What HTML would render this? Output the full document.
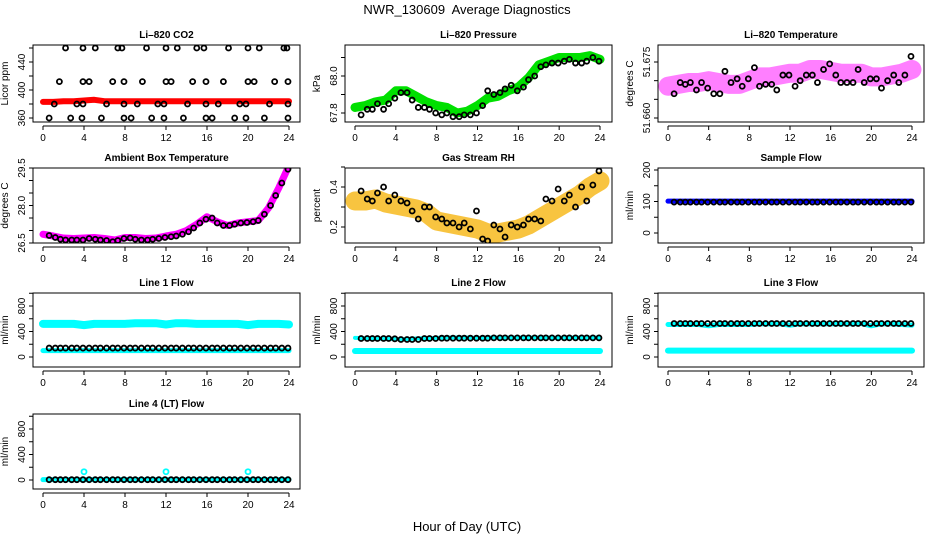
<!DOCTYPE html>
<html><head><meta charset="utf-8"><style>
html,body{margin:0;padding:0;background:#fff;}
svg{display:block;font-family:"Liberation Sans",Arial,sans-serif;}
</style></head><body>
<svg id="chart" width="936" height="540" viewBox="0 0 936 540" xmlns="http://www.w3.org/2000/svg">
<text x="467" y="14" font-size="13" text-anchor="middle">NWR_130609&#160; Average Diagnostics</text>
<text x="467" y="531" font-size="13" text-anchor="middle">Hour of Day (UTC)</text>
</svg>
<script>
// ---- shared data ----
const hours = [0,1,2,3,4,5,6,7,8,9,10,11,12,13,14,15,16,17,18,19,20,21,22,23,24];
const sampleTimes = [0.6,1.2,1.7,2.2,2.8,3.3,3.9,4.5,5.1,5.6,6.2,6.8,7.3,7.9,8.5,9.0,9.6,10.2,10.7,11.3,11.9,12.5,13.0,13.6,14.2,14.7,15.3,15.9,16.5,17.0,17.6,18.2,18.7,19.3,19.9,20.5,21.0,21.6,22.2,22.7,23.3,23.9];
const xTicks = [0,4,8,12,16,20,24];

// CO2
const co2Band = [383,383,384,384,385,386,384,384,384,384,384,384,384,384,384,384,384,384,384,384,384,384,384,384,384];
const co2T460 = [2.2,3.9,5.1,7.3,7.7,10.1,12.0,13.1,15.0,15.7,18.1,20.0,21.1,23.5,23.8];
const co2T412 = [1.6,3.9,4.5,6.8,7.9,9.7,12.0,12.5,14.6,15.9,17.6,20.0,20.6,22.6,23.9];
const co2T380 = [1.1,3.3,3.9,6.2,7.9,9.2,11.2,11.8,14.1,15.9,17.1,19.2,19.8,22.1,23.9];
const co2T360 = [0.6,2.7,3.8,5.7,7.9,8.6,10.6,11.8,13.7,15.9,16.5,18.7,19.8,21.6,23.9];
// Pressure
const presBand = [67.83,67.84,67.86,67.87,67.92,67.92,67.89,67.86,67.84,67.83,67.80,67.81,67.84,67.88,67.89,67.92,67.94,67.99,68.06,68.08,68.10,68.10,68.10,68.11,68.09];
const presPts = [67.79,67.82,67.82,67.85,67.82,67.85,67.88,67.91,67.91,67.87,67.83,67.83,67.82,67.80,67.79,67.80,67.78,67.78,67.79,67.79,67.80,67.84,67.92,67.90,67.91,67.93,67.95,67.92,67.94,67.98,68.00,68.05,68.06,68.07,68.07,68.08,68.09,68.07,68.07,68.08,68.10,68.08];
// Li-820 temperature
const ltBand = [51.6685,51.669,51.6695,51.6695,51.670,51.6695,51.669,51.669,51.670,51.671,51.671,51.6715,51.672,51.672,51.673,51.673,51.6725,51.672,51.672,51.672,51.671,51.671,51.6715,51.672,51.673];
const ltPts = [51.6665,51.6695,51.669,51.6695,51.6675,51.6695,51.668,51.6665,51.6665,51.6725,51.6695,51.6705,51.6685,51.6705,51.6735,51.6685,51.669,51.669,51.6675,51.6715,51.6715,51.6685,51.670,51.6715,51.6715,51.6695,51.673,51.6745,51.6715,51.6695,51.6695,51.6695,51.673,51.6695,51.6705,51.6705,51.668,51.670,51.6715,51.6695,51.6715,51.6765];
// Ambient
const ambBand = [26.85,26.78,26.7,26.68,26.7,26.72,26.68,26.62,26.72,26.72,26.68,26.7,26.78,26.85,27.0,27.25,27.55,27.35,27.2,27.3,27.35,27.4,27.9,28.7,29.6];
const ambPts = [26.8,26.72,26.65,26.62,26.62,26.62,26.62,26.68,26.65,26.62,26.6,26.55,26.6,26.68,26.7,26.65,26.62,26.62,26.65,26.68,26.72,26.75,26.78,26.85,26.95,27.1,27.3,27.45,27.5,27.3,27.2,27.2,27.25,27.3,27.32,27.35,27.4,27.65,28.0,28.4,28.9,29.45];
// RH
const rhBand = [0.33,0.33,0.34,0.32,0.31,0.30,0.29,0.27,0.23,0.22,0.21,0.20,0.19,0.17,0.17,0.18,0.19,0.21,0.24,0.27,0.30,0.33,0.36,0.40,0.43];
const rhPts = [0.38,0.34,0.33,0.37,0.40,0.33,0.36,0.33,0.32,0.28,0.24,0.30,0.30,0.25,0.24,0.22,0.22,0.20,0.22,0.19,0.28,0.14,0.13,0.21,0.19,0.15,0.21,0.20,0.21,0.24,0.24,0.23,0.34,0.33,0.39,0.33,0.36,0.30,0.40,0.33,0.41,0.48];
// Flows
const sampleBand = [101,101,101,101,101,101,101,101,101,101,101,101,101,101,101,101,101,101,101,101,101,101,101,101,101];
const samplePts = [98,98,98,98,98,98,98,98,98,98,98,98,98,98,98,98,98,98,98,98,98,98,98,98,98,98,98,98,98,98,98,98,98,98,98,98,98,98,98,98,98,98];
const l1BandHi = [520,520,520,520,500,520,520,520,520,530,530,530,510,530,530,520,520,520,520,520,500,520,520,520,510];
const l1BandLo = [100,100,100,100,100,100,100,100,100,100,100,100,100,100,100,100,100,100,100,100,100,100,100,100,100];
const l1Pts = [140,140,140,140,140,140,140,140,140,140,140,140,140,140,140,140,140,140,140,140,140,140,140,140,140,140,140,140,140,140,140,140,140,140,140,140,140,140,140,140,140,140];
const l2BandHi = [300,295,290,285,280,280,290,295,300,305,305,305,300,305,305,305,305,305,305,305,300,305,305,305,305];
const l2BandLo = [95,95,95,95,95,95,95,95,95,95,95,95,95,95,95,95,95,95,95,95,95,95,95,95,95];
const l2Pts = [290,290,290,290,290,290,285,275,275,275,275,290,290,290,295,295,295,295,295,295,295,295,295,300,300,300,300,300,300,300,300,300,300,300,300,300,300,300,300,300,300,300];
const l3BandHi = [510,510,510,510,490,510,510,510,510,520,520,520,500,520,520,520,520,520,520,525,490,520,520,510,500];
const l3BandLo = [100,100,100,100,100,100,100,100,100,100,100,100,100,100,100,100,100,100,100,100,100,100,100,100,100];
const l3Pts = [525,525,525,525,525,525,525,525,525,525,525,525,525,525,525,525,525,525,525,525,525,525,525,525,525,525,525,525,525,525,525,525,525,525,525,525,525,525,525,525,525,525];
const l4Band = [5,5,5,5,5,5,5,5,5,5,5,5,5,5,5,5,5,5,5,5,5,5,5,5,5];
const l4OutT = [4,12,20];
const l4OutV = [130,130,130];
const l4Pts = [5,5,5,5,5,5,5,5,5,5,5,5,5,5,5,5,5,5,5,5,5,5,5,5,5,5,5,5,5,5,5,5,5,5,5,5,5,5,5,5,5,5];

const NS = "http://www.w3.org/2000/svg";
const svg = document.getElementById('chart');
function mk(tag, attrs, parent){const e=document.createElementNS(NS,tag);for(const k in attrs)e.setAttribute(k,attrs[k]);(parent||svg).appendChild(e);return e;}

const cols = [{bl:33,br:300,t0:43,t24:289},{bl:345,br:612,t0:355,t24:600},{bl:658,br:924,t0:668,t24:912}];
const rows = [{top:45,bot:122},{top:168,bot:243},{top:293,bot:367},{top:414,bot:489}];

function panel(name, title, col, row, ylab, v1, p1, v2, p2, ticks, labels){
  const c=cols[col], r=rows[row];
  const g=mk('g',{});
  
  
  const sx=t=>c.t0+(c.t24-c.t0)*t/24;
  const sy=v=>p1+(v-v1)*(p2-p1)/(v2-v1);
  const ttl=mk('text',{x:(c.bl+c.br)/2,y:r.top-7,'font-size':10,'font-weight':'bold','text-anchor':'middle'},g);
  ttl.textContent=title;
  
  
  const yt=mk('text',{transform:`translate(${c.bl-25},${(r.top+r.bot)/2}) rotate(-90)`,'font-size':10,'text-anchor':'middle'},g);
  yt.textContent=ylab;
  
  
  const xa=mk('g',{},g);
  
  
  mk('line',{x1:sx(0),x2:sx(24),y1:r.bot+4,y2:r.bot+4,stroke:'#000','stroke-width':1},xa);
  xTicks.forEach(t=>{
    mk('line',{x1:sx(t),x2:sx(t),y1:r.bot+4,y2:r.bot+8,stroke:'#000'},xa);
    const tx=mk('text',{x:sx(t),y:r.bot+19,'font-size':10,'text-anchor':'middle'},xa);
    tx.textContent=t;
  });
  const ya=mk('g',{},g);
  
  
  ticks.forEach(v=>{ mk('line',{x1:c.bl-4,x2:c.bl,y1:sy(v),y2:sy(v),stroke:'#000'},ya); });
  labels.forEach(v=>{
    const tx=mk('text',{transform:`translate(${c.bl-8},${sy(v)}) rotate(-90)`,'font-size':10,'text-anchor':'middle'},ya);
    tx.textContent=String(v);
  });
  const clip='clip-'+name;
  const cp=mk('clipPath',{id:clip},g);
  mk('rect',{x:c.bl,y:r.top,width:c.br-c.bl,height:r.bot-r.top},cp);
  const plot=mk('g',{'clip-path':`url(#${clip})`},g);
  mk('rect',{x:c.bl,y:r.top,width:c.br-c.bl,height:r.bot-r.top,fill:'none',stroke:'#000','stroke-width':1},g);
  return {sx,sy,plot};
}
function band(P, name, ts, vs, color, w, op){
  const pts=ts.map((t,i)=>P.sx(t)+','+P.sy(vs[i])).join(' ');
  const e=mk('polyline',{points:pts,fill:'none',stroke:color,'stroke-width':w,'stroke-linejoin':'round','stroke-linecap':'round',opacity:op||1},P.plot);
  
  
}
function pts(P, name, ts, vs, color){
  const g=mk('g',{},P.plot);
  
  
  ts.forEach((t,i)=>{ mk('circle',{cx:P.sx(t),cy:P.sy(vs[i]),r:2.5,fill:'none',stroke:color,'stroke-width':1.8},g); });
}
function constArr(ts,v){return ts.map(()=>v);}

let P=panel('co2','Li\u2013820 CO2',0,0,'Licor ppm',360,118,440,62,[360,380,400,420,440,460],[360,400,440]);
band(P,'co2-band',hours,co2Band,'#ff0000',6);
pts(P,'co2-points-460',co2T460,constArr(co2T460,460),'#000');
pts(P,'co2-points-412',co2T412,constArr(co2T412,412),'#000');
pts(P,'co2-points-380',co2T380,constArr(co2T380,380),'#000');
pts(P,'co2-points-360',co2T360,constArr(co2T360,360),'#000');

P=panel('pressure','Li\u2013820 Pressure',1,0,'kPa',67.8,113,68.0,76,[67.8,67.9,68.0,68.1],['67.8','68.0']);
band(P,'pressure-band',hours,presBand,'#00e000',9);
pts(P,'pressure-points',sampleTimes,presPts,'#000');

P=panel('li-temp','Li\u2013820 Temperature',2,0,'degrees C',51.660,118,51.675,62,[51.660,51.665,51.670,51.675],['51.660','51.675']);
band(P,'li-temp-band',hours,ltBand,'#ff00ff',19,0.5);
pts(P,'li-temp-points',sampleTimes,ltPts,'#000');

P=panel('ambient','Ambient Box Temperature',0,1,'degrees C',26.5,243,29.5,168,[26.5,27,27.5,28,28.5,29,29.5],['26.5','28.0','29.5']);
band(P,'ambient-band',hours,ambBand,'#ff00ff',7);
pts(P,'ambient-points',sampleTimes,ambPts,'#000');

P=panel('rh','Gas Stream RH',1,1,'percent',0.2,227,0.4,187,[0.2,0.3,0.4,0.5],['0.2','0.4']);
band(P,'rh-band',hours,rhBand,'#f5b000',19,0.75);
pts(P,'rh-points',sampleTimes,rhPts,'#000');

P=panel('sample-flow','Sample Flow',2,1,'ml/min',0,233,200,170,[0,50,100,150,200],['0','100','200']);
band(P,'sample-flow-band',hours,sampleBand,'#0000ff',5);
pts(P,'sample-flow-points',sampleTimes,samplePts,'#000');

const flowTicks=[0,200,400,600,800,1000], flowLabels=['0','400','800'];
P=panel('line1-flow','Line 1 Flow',0,2,'ml/min',0,357,800,306,flowTicks,flowLabels);
band(P,'line1-band-high',hours,l1BandHi,'#00ffff',8);
band(P,'line1-band-low',hours,l1BandLo,'#00ffff',5);
pts(P,'line1-points',sampleTimes,l1Pts,'#000');

P=panel('line2-flow','Line 2 Flow',1,2,'ml/min',0,357,800,306,flowTicks,flowLabels);
band(P,'line2-band-high',hours,l2BandHi,'#00ffff',4);
band(P,'line2-band-low',hours,l2BandLo,'#00ffff',6);
pts(P,'line2-points',sampleTimes,l2Pts,'#000');

P=panel('line3-flow','Line 3 Flow',2,2,'ml/min',0,357,800,306,flowTicks,flowLabels);
band(P,'line3-band-high',hours,l3BandHi,'#00ffff',5);
band(P,'line3-band-low',hours,l3BandLo,'#00ffff',6);
pts(P,'line3-points',sampleTimes,l3Pts,'#000');

P=panel('line4-flow','Line 4 (LT) Flow',0,3,'ml/min',0,480,800,429,flowTicks,flowLabels);
band(P,'line4-band',hours,l4Band,'#00ffff',5);
pts(P,'line4-outliers',l4OutT,l4OutV,'#00ffff');
pts(P,'line4-points',sampleTimes,l4Pts,'#000');
</script>
</body></html>
